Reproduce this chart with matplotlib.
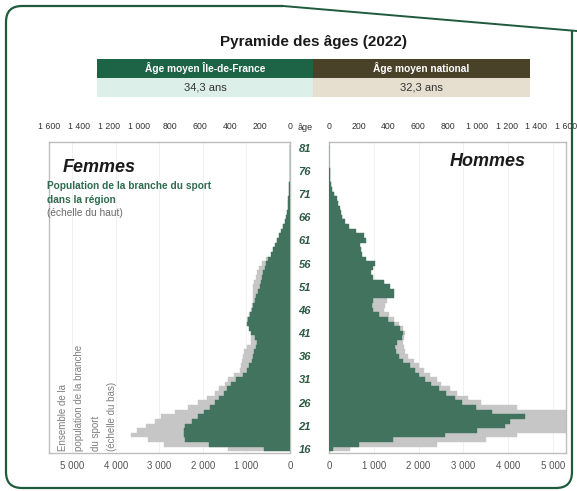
import matplotlib
matplotlib.use("Agg")
import matplotlib.pyplot as plt
from matplotlib.patches import Rectangle, PathPatch
from matplotlib.path import Path
from matplotlib.lines import Line2D

plt.rcParams['font.family'] = ['Liberation Sans', 'DejaVu Sans']

# ---------------- data ----------------
ages = list(range(16, 82))

femmes_region = [170, 540, 700, 705, 705, 700, 650, 610, 570, 530,
                 500, 470, 440, 420, 395, 360, 310, 285, 275, 255,
                 245, 240, 228, 222, 230, 262, 275, 285, 280, 265,
                 255, 245, 235, 225, 212, 200, 190, 183, 176, 168,
                 160, 145, 128, 115, 100, 88, 75, 60, 48, 35,
                 25, 20, 16, 13, 10, 8, 6, 5, 3, 2,
                 1, 1, 1, 1, 0, 0]

femmes_national = [1430, 2880, 3260, 3640, 3500, 3300, 3100, 2950, 2650, 2350,
                   2110, 1900, 1720, 1620, 1500, 1420, 1280, 1150, 1120, 1100,
                   1080, 1050, 980, 900, 890, 860, 900, 960, 980, 930,
                   900, 870, 860, 855, 850, 840, 825, 790, 750, 700,
                   640, 560, 420, 380, 330, 290, 240, 190, 150, 110,
                   80, 65, 50, 40, 30, 25, 18, 14, 10, 7,
                   5, 4, 3, 2, 2, 1]

hommes_region = [30, 200, 430, 780, 1000, 1190, 1220, 1320, 1100, 990,
                 900, 850, 790, 740, 690, 650, 610, 580, 545, 500,
                 470, 455, 445, 460, 490, 500, 480, 440, 400, 340,
                 300, 290, 300, 440, 440, 410, 370, 300, 285, 300,
                 310, 250, 225, 218, 212, 250, 235, 185, 135, 110,
                 90, 82, 74, 62, 52, 35, 22, 15, 10, 7,
                 5, 3, 2, 1, 1, 1]

hommes_national = [470, 2400, 3500, 4200, 5400, 5400, 5400, 5400, 5400, 4200,
                   3400, 3100, 2850, 2700, 2500, 2400, 2250, 2130, 2000, 1900,
                   1760, 1700, 1680, 1660, 1680, 1700, 1660, 1560, 1450, 1330,
                   1230, 1250, 1290, 1320, 1300, 1250, 1150, 950, 900, 900,
                   880, 780, 700, 680, 660, 700, 650, 560, 400, 340,
                   280, 250, 220, 190, 160, 110, 70, 48, 32, 22,
                   15, 9, 6, 4, 3, 2]

age_ticks = [16, 21, 26, 31, 36, 41, 46, 51, 56, 61, 66, 71, 76, 81]
top_ticks = [0, 200, 400, 600, 800, 1000, 1200, 1400, 1600]
bottom_ticks = [0, 1000, 2000, 3000, 4000, 5000]

title = "Pyramide des âges (2022)"
header_left = "Âge moyen Île-de-France"
header_right = "Âge moyen national"
value_left = "34,3 ans"
value_right = "32,3 ans"


def fmt(v):
    return f"{v:,}".replace(",", " ")


# ---------------- style ----------------
GREEN = "#41735e"
GRAY = "#c6c6c6"
FRAME = "#1f5a3d"
W, H = 577, 491

fig = plt.figure(figsize=(W / 100, H / 100), dpi=100)


def fx(x):
    return x / W


def fy(y):
    return 1 - y / H


def panel(x0, x1, y0, y1):
    return fig.add_axes([fx(x0), fy(y1), fx(x1) - fx(x0), fy(y0) - fy(y1)])


YLIM = (15.15, 82.2)

# ---------------- left panel (Femmes) ----------------
axL = panel(49, 290, 142, 453)
axL.set_axisbelow(True)
axL.barh(ages, femmes_national, height=1.0, color=GRAY, edgecolor=GRAY, linewidth=0.3)
axL.set_xlim(5530, 0)
axL.set_ylim(*YLIM)
axL.set_yticks([])
axL.set_xticks(bottom_ticks, [fmt(v) for v in bottom_ticks])
axL.tick_params(axis='x', length=0, pad=6, labelsize=7, labelcolor='#555555')
axL.grid(axis='x', color='#efefef', linewidth=0.6)
for s in axL.spines.values():
    s.set_color('#bdbdbd')
    s.set_linewidth(1.0)

twL = axL.twiny()
twL.barh(ages, femmes_region, height=1.0, color=GREEN, edgecolor=GREEN, linewidth=0.3)
twL.set_xlim(1580, 0)
twL.set_xticks(top_ticks, [fmt(v) for v in top_ticks])
twL.tick_params(axis='x', length=0, pad=8, labelsize=6.3, labelcolor='#333333')
for s in twL.spines.values():
    s.set_visible(False)

# ---------------- right panel (Hommes) ----------------
axR = panel(329, 566, 142, 453)
axR.set_axisbelow(True)
axR.barh(ages, hommes_national, height=1.0, color=GRAY, edgecolor=GRAY, linewidth=0.3)
axR.set_xlim(0, 5290)
axR.set_ylim(*YLIM)
axR.set_xticks(bottom_ticks, [fmt(v) for v in bottom_ticks])
axR.tick_params(axis='x', length=0, pad=6, labelsize=7, labelcolor='#555555')
axR.set_yticks(age_ticks, [str(a) for a in age_ticks])
axR.tick_params(axis='y', length=0, pad=13, labelsize=8, labelcolor='#2c5a44')
for lbl in axR.get_yticklabels():
    lbl.set_fontweight('bold')
    lbl.set_fontstyle('italic')
axR.grid(axis='x', color='#efefef', linewidth=0.6)
for s in axR.spines.values():
    s.set_color('#bdbdbd')
    s.set_linewidth(1.0)

twR = axR.twiny()
twR.barh(ages, hommes_region, height=1.0, color=GREEN, edgecolor=GREEN, linewidth=0.3)
twR.set_xlim(0, 1595)
twR.set_xticks(top_ticks, [fmt(v) for v in top_ticks])
twR.tick_params(axis='x', length=0, pad=8, labelsize=6.3, labelcolor='#333333')
for s in twR.spines.values():
    s.set_visible(False)

fig.text(fx(305), fy(127), "âge", ha='center', va='center', fontsize=6.5, color='#333333')

# ---------------- panel texts ----------------
fig.text(fx(63), fy(167), "Femmes", fontsize=13, fontweight='bold', fontstyle='italic',
         color='#1a1a1a', ha='left', va='center')
fig.text(fx(450), fy(162), "Hommes", fontsize=13, fontweight='bold', fontstyle='italic',
         color='#1a1a1a', ha='left', va='center')
fig.text(fx(47), fy(186), "Population de la branche du sport",
         fontsize=7.3, fontweight='bold', color='#2e6b50', ha='left', va='center')
fig.text(fx(47), fy(200), "dans la région",
         fontsize=7.3, fontweight='bold', color='#2e6b50', ha='left', va='center')
fig.text(fx(47), fy(213), "(échelle du haut)", fontsize=7.3, color='#6b6b6b',
         ha='left', va='center')
fig.text(fx(58), fy(451), "Ensemble de la\npopulation de la branche\ndu sport\n(échelle du bas)",
         rotation=90, fontsize=7, color='#7f7f7f', ha='left', va='bottom',
         linespacing=1.8, multialignment='left')

# ---------------- header ----------------
fig.text(fx(313), fy(42), title, fontsize=11, fontweight='bold', color='#1a1a1a',
         ha='center', va='center')
cells = [
    (97, 313, 59, 78, "#1d6446", header_left, 'white', 'bold', 7.3),
    (313, 530, 59, 78, "#4a4228", header_right, 'white', 'bold', 7.3),
    (97, 313, 78, 97, "#dcefe8", value_left, '#333333', 'normal', 8),
    (313, 530, 78, 97, "#e6dfcf", value_right, '#333333', 'normal', 8),
]
for x0, x1, y0, y1, c, t, tc, tw, fs in cells:
    fig.add_artist(Rectangle((fx(x0), fy(y1)), fx(x1) - fx(x0), fy(y0) - fy(y1),
                             transform=fig.transFigure, facecolor=c, edgecolor='none'))
    fig.text(fx((x0 + x1) / 2), fy((y0 + y1) / 2), t, ha='center', va='center',
             fontsize=fs, color=tc, fontweight=tw)

# ---------------- outer frame ----------------
r = 16
pts = [(283, 6), (6 + r, 6), (6, 6), (6, 6 + r), (6, 488 - r), (6, 488), (6 + r, 488),
       (572 - r, 488), (572, 488), (572, 488 - r), (572, 30.6)]
codes = [Path.MOVETO, Path.LINETO, Path.CURVE3, Path.CURVE3, Path.LINETO, Path.CURVE3,
         Path.CURVE3, Path.LINETO, Path.CURVE3, Path.CURVE3, Path.LINETO]
path = Path([(fx(x), fy(y)) for x, y in pts], codes)
fig.add_artist(PathPatch(path, transform=fig.transFigure, fill=False,
                         edgecolor=FRAME, linewidth=1.6))
fig.add_artist(Line2D([fx(283), fx(577)], [fy(6), fy(31)], transform=fig.transFigure,
                      color=FRAME, linewidth=1.4))

fig.savefig("out.png", dpi=100)
